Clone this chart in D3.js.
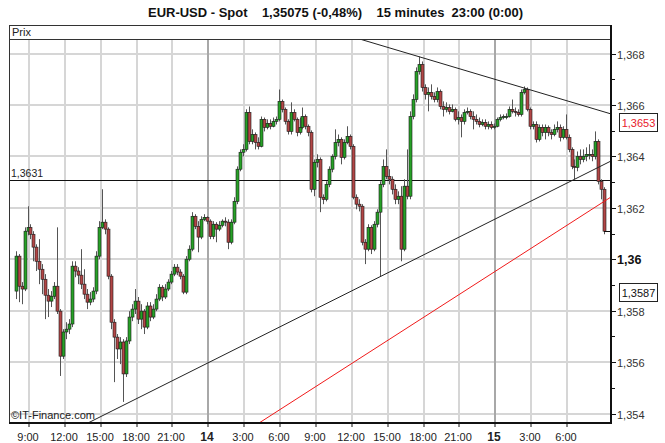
<!DOCTYPE html>
<html><head><meta charset="utf-8">
<script src="https://cdn.jsdelivr.net/npm/d3@7"></script>
<style>
html,body{margin:0;padding:0;background:#fff;}
svg{display:block;}
text{font-family:"Liberation Sans",Arial,sans-serif;}
</style></head>
<body>
<svg id="c" width="665" height="443"></svg>
<script>
// ---------- DATA ----------
const title = "EUR-USD - Spot    1,35075 (-0,48%)    15 minutes  23:00 (0:00)";
const startHour = 7.75;          // first bar: day 13, 07:45
const barHours = 0.25;           // 15 minute bars
const firstOpen = 1.35876;
const closes = [
1.36012,1.35895,1.35884,1.36109,1.36124,1.36097,1.36047,1.35992,1.35961,1.35922,
1.35860,1.35837,1.35856,1.35895,1.35798,1.35623,1.35717,1.35728,1.35748,1.35973,
1.35954,1.35938,1.35903,1.35864,1.35833,1.35845,1.35876,1.36012,1.36124,1.36144,
1.36117,1.35934,1.35755,1.35697,1.35651,1.35678,1.35554,1.35682,1.35775,1.35806,
1.35837,1.35767,1.35798,1.35736,1.35818,1.35775,1.35806,1.35845,1.35891,1.35853,
1.35884,1.35911,1.35942,1.35969,1.35950,1.35934,1.35872,1.36000,1.36039,1.36167,
1.36128,1.36086,1.36155,1.36163,1.36148,1.36089,1.36136,1.36117,1.36132,1.36148,
1.36144,1.36066,1.36144,1.36225,1.36350,1.36416,1.36427,1.36571,1.36458,1.36485,
1.36454,1.36439,1.36544,1.36513,1.36528,1.36517,1.36536,1.36544,1.36614,1.36583,
1.36536,1.36497,1.36571,1.36544,1.36493,1.36513,1.36555,1.36517,1.36493,1.36272,
1.36377,1.36388,1.36241,1.36233,1.36291,1.36350,1.36400,1.36454,1.36466,1.36396,
1.36454,1.36478,1.36439,1.36241,1.36214,1.36206,1.36066,1.36039,1.36124,1.36039,
1.36136,1.36183,1.36291,1.36361,1.36322,1.36311,1.36272,1.36233,1.36245,1.36039,
1.36284,1.36245,1.36555,1.36621,1.36730,1.36757,1.36668,1.36641,1.36649,1.36633,
1.36621,1.36652,1.36594,1.36583,1.36590,1.36575,1.36583,1.36544,1.36551,1.36536,
1.36571,1.36575,1.36555,1.36544,1.36536,1.36524,1.36532,1.36517,1.36524,1.36513,
1.36517,1.36544,1.36551,1.36555,1.36555,1.36583,1.36575,1.36571,1.36563,1.36649,
1.36660,1.36583,1.36517,1.36524,1.36466,1.36513,1.36493,1.36513,1.36493,1.36485,
1.36505,1.36513,1.36474,1.36505,1.36474,1.36427,1.36361,1.36357,1.36400,1.36388,
1.36400,1.36408,1.36408,1.36400,1.36458,1.36303,1.36272,1.36109];
const highs = [
1.36031,1.36020,1.35911,1.36124,1.36206,1.36136,1.36109,1.36058,1.36078,1.35981,
1.35942,1.35884,1.35876,1.35911,1.36124,1.35806,1.35728,1.35755,1.35767,1.35992,
1.35992,1.35969,1.36039,1.35961,1.35884,1.35872,1.35891,1.36031,1.36148,1.36272,
1.36155,1.36124,1.35942,1.35767,1.35709,1.35697,1.35689,1.35697,1.35798,1.35825,
1.35884,1.35853,1.35825,1.35806,1.35833,1.35833,1.35825,1.35864,1.35903,1.35899,
1.35903,1.35922,1.35954,1.35981,1.35981,1.35961,1.35942,1.36012,1.36054,1.36183,
1.36175,1.36148,1.36167,1.36175,1.36167,1.36155,1.36148,1.36144,1.36148,1.36155,
1.36163,1.36155,1.36155,1.36241,1.36361,1.36427,1.36447,1.36583,1.36594,1.36505,
1.36493,1.36474,1.36555,1.36551,1.36544,1.36544,1.36551,1.36555,1.36660,1.36621,
1.36590,1.36544,1.36610,1.36583,1.36551,1.36551,1.36590,1.36563,1.36524,1.36501,
1.36388,1.36408,1.36396,1.36252,1.36303,1.36361,1.36408,1.36505,1.36485,1.36474,
1.36466,1.36517,1.36485,1.36447,1.36252,1.36233,1.36214,1.36078,1.36136,1.36132,
1.36148,1.36194,1.36303,1.36388,1.36427,1.36350,1.36322,1.36291,1.36264,1.36284,
1.36311,1.36427,1.36575,1.36641,1.36746,1.36788,1.36769,1.36680,1.36668,1.36680,
1.36649,1.36668,1.36660,1.36614,1.36610,1.36602,1.36602,1.36590,1.36575,1.36563,
1.36583,1.36590,1.36583,1.36575,1.36563,1.36551,1.36544,1.36544,1.36536,1.36536,
1.36528,1.36551,1.36563,1.36563,1.36567,1.36594,1.36621,1.36590,1.36583,1.36660,
1.36672,1.36668,1.36590,1.36536,1.36536,1.36524,1.36524,1.36524,1.36520,1.36505,
1.36524,1.36536,1.36524,1.36517,1.36563,1.36485,1.36435,1.36388,1.36419,1.36427,
1.36427,1.36435,1.36447,1.36427,1.36497,1.36466,1.36311,1.36280];
const lows = [
1.35845,1.35833,1.35825,1.35876,1.36093,1.36078,1.35992,1.35954,1.35903,1.35864,
1.35767,1.35775,1.35814,1.35845,1.35787,1.35546,1.35612,1.35689,1.35709,1.35736,
1.35930,1.35903,1.35884,1.35845,1.35806,1.35821,1.35833,1.35864,1.36000,1.36117,
1.36097,1.35922,1.35728,1.35522,1.35612,1.35592,1.35445,1.35542,1.35670,1.35759,
1.35787,1.35748,1.35728,1.35709,1.35728,1.35759,1.35767,1.35798,1.35837,1.35837,
1.35845,1.35876,1.35903,1.35934,1.35938,1.35922,1.35864,1.35864,1.35992,1.36031,
1.36117,1.36027,1.36078,1.36148,1.36136,1.36078,1.36078,1.36066,1.36109,1.36124,
1.36128,1.36039,1.36058,1.36136,1.36214,1.36342,1.36400,1.36419,1.36447,1.36447,
1.36427,1.36427,1.36435,1.36497,1.36505,1.36505,1.36513,1.36524,1.36536,1.36571,
1.36524,1.36485,1.36485,1.36536,1.36478,1.36485,1.36505,1.36505,1.36478,1.36260,
1.36245,1.36357,1.36183,1.36214,1.36225,1.36280,1.36338,1.36388,1.36439,1.36369,
1.36388,1.36447,1.36427,1.36233,1.36194,1.36186,1.36054,1.35981,1.36031,1.36020,
1.36031,1.36124,1.35934,1.36280,1.36311,1.36291,1.36252,1.36214,1.36214,1.35992,
1.36031,1.36233,1.36233,1.36544,1.36610,1.36718,1.36652,1.36621,1.36575,1.36621,
1.36610,1.36610,1.36583,1.36555,1.36571,1.36563,1.36571,1.36536,1.36524,1.36474,
1.36524,1.36563,1.36544,1.36505,1.36524,1.36513,1.36517,1.36505,1.36505,1.36505,
1.36505,1.36513,1.36536,1.36544,1.36544,1.36551,1.36567,1.36555,1.36555,1.36555,
1.36641,1.36575,1.36505,1.36505,1.36454,1.36458,1.36478,1.36466,1.36478,1.36466,
1.36478,1.36493,1.36458,1.36466,1.36466,1.36416,1.36350,1.36311,1.36342,1.36369,
1.36377,1.36381,1.36388,1.36381,1.36388,1.36291,1.36233,1.36097];

// x axis: hours counted from day 13, 00:00
const xTickHours  = [9,12,15,18,21,24,27,30,33,36,39,42,45,48,51,54];
const xTickLabels = ["9:00","12:00","15:00","18:00","21:00","14","3:00","6:00","9:00","12:00","15:00","18:00","21:00","15","3:00","6:00"];
const dayTicks = ["14","15"];
const yTicks      = [1.354,1.356,1.358,1.360,1.362,1.364,1.366,1.368];
const yTickLabels = ["1,354","1,356","1,358","1,36","1,362","1,364","1,366","1,368"];
const yMinorTicks = [1.355,1.357,1.359,1.361,1.363,1.365,1.367];
const hLevel = 1.3631, hLevelLabel = "1,3631";
const markers = [{v:1.3653,label:"1,3653",color:"#e8202a"},{v:1.3587,label:"1,3587",color:"#111"}];
// trend lines [hour1, price1, hour2, price2]
const trendLines = [
  {p:[36.68,1.36856,57.68,1.36565], color:"#222"},
  {p:[13.93,1.35363,57.68,1.36382], color:"#222"},
  {p:[28.24,1.35363,57.68,1.36242], color:"#f01a1a"}
];

// ---------- LAYOUT ----------
const L=9, R=611, T=39, B=423, HT=25;
const svg=d3.select("#c");
const x=d3.scaleLinear().domain([7.327,57.678]).range([L,R]);
const y=d3.scaleLinear().domain([1.354,1.368]).range([413.5,53.5]);

const opens = closes.map((c,i)=> i===0 ? firstOpen : closes[i-1]);
const bars = closes.map((c,i)=>({t:startHour+barHours*i+barHours/2,o:opens[i],h:highs[i],l:lows[i],c:c}));

// title
svg.append("text").attr("x",148).attr("y",17).attr("textLength",375).attr("lengthAdjust","spacingAndGlyphs")
  .style("font-family","'Liberation Sans Narrow','Liberation Sans',Arial,sans-serif")
  .style("font-size","13px").style("font-weight","bold").attr("fill","#111")
  .attr("xml:space","preserve").text(title);

// header band
svg.append("rect").attr("x",L+0.5).attr("y",HT+0.5).attr("width",R-L-1).attr("height",T-HT).attr("fill","#fff").attr("stroke","#333");
svg.append("text").attr("x",12).attr("y",36).style("font-size","11px").attr("fill","#222").text("Prix");

// grid
const gridCol="#d6d6d6", dayCol="#a8a8a8";
const grid=svg.append("g");
yTicks.forEach(v=>{
  grid.append("rect").attr("x",L+1).attr("y",Math.round(y(v))-1).attr("width",R-L-2).attr("height",2).attr("fill",gridCol);
});
xTickHours.forEach((h,i)=>{
  grid.append("rect").attr("x",Math.round(x(h))-1).attr("y",T+1).attr("width",2).attr("height",B-T-2)
    .attr("fill",dayTicks.includes(xTickLabels[i])?dayCol:gridCol);
});

const clipId="clipP";
svg.append("clipPath").attr("id",clipId).append("rect").attr("x",L).attr("y",T+1).attr("width",R-L).attr("height",B-T-1);
const plot=svg.append("g").attr("clip-path","url(#"+clipId+")");

// horizontal level
plot.append("line").attr("x1",L).attr("x2",R).attr("y1",Math.round(y(hLevel))+0.5).attr("y2",Math.round(y(hLevel))+0.5).attr("stroke","#111");
svg.append("text").attr("x",11).attr("y",Math.round(y(hLevel))-3).style("font-size","10.5px").attr("fill","#222").text(hLevelLabel);

// candles
const cg=plot.append("g");
bars.forEach(d=>{
  const cx=Math.round(x(d.t));
  cg.append("line").attr("x1",cx+0.5).attr("x2",cx+0.5).attr("y1",y(d.h)).attr("y2",y(d.l)).attr("stroke","#555").attr("stroke-width",1);
  const top=y(Math.max(d.o,d.c)), bot=y(Math.min(d.o,d.c));
  cg.append("rect").attr("x",cx-1).attr("y",top).attr("width",3).attr("height",Math.max(1,bot-top))
    .attr("fill",d.c>=d.o?"#27a127":"#b24646").attr("stroke","#1a1a1a").attr("stroke-width",0.6);
});
// last close marker
const last=bars[bars.length-1];
plot.append("line").attr("x1",Math.round(x(last.t))).attr("x2",R).attr("y1",Math.round(y(last.c))+0.5).attr("y2",Math.round(y(last.c))+0.5).attr("stroke","#111");

// trend lines
trendLines.forEach(tl=>{
  const [h1,p1,h2,p2]=tl.p;
  plot.append("line").attr("x1",x(h1)).attr("y1",y(p1)).attr("x2",x(h2)).attr("y2",y(p2)).attr("stroke",tl.color).attr("stroke-width",1);
});

// frame
svg.append("line").attr("x1",L+0.5).attr("x2",L+0.5).attr("y1",HT).attr("y2",B+1).attr("stroke","#333");
svg.append("line").attr("x1",R).attr("x2",R).attr("y1",HT).attr("y2",B+1).attr("stroke","#111").attr("stroke-width",2);
svg.append("line").attr("x1",L).attr("x2",R+1).attr("y1",B).attr("y2",B).attr("stroke","#111").attr("stroke-width",2);

// y axis
const ya=svg.append("g");
yTicks.forEach((v,i)=>{
  const yy=Math.round(y(v))+0.5;
  ya.append("line").attr("x1",R).attr("x2",R+5).attr("y1",yy).attr("y2",yy).attr("stroke","#111");
  const bold=yTickLabels[i]==="1,36";
  ya.append("text").attr("x",R+6).attr("y",yy+4).style("font-size",bold?"12.5px":"11px")
    .style("font-weight",bold?"bold":"normal").attr("fill",bold?"#111":"#333").text(yTickLabels[i]);
});
yMinorTicks.forEach(v=>{
  const yy=Math.round(y(v))+0.5;
  ya.append("line").attr("x1",R).attr("x2",R+4).attr("y1",yy).attr("y2",yy).attr("stroke","#111");
});
markers.forEach(m=>{
  const yy=Math.round(y(m.v));
  ya.append("rect").attr("x",619.5).attr("y",yy-9.5).attr("width",38).attr("height",18).attr("fill","#fff").attr("stroke","#222");
  ya.append("text").attr("x",638.5).attr("y",yy+4).attr("text-anchor","middle").style("font-size","11px").attr("fill",m.color).text(m.label);
});

// x axis
const xa=svg.append("g");
xTickHours.forEach((h,i)=>{
  const xx=Math.round(x(h));
  xa.append("line").attr("x1",xx).attr("x2",xx).attr("y1",B).attr("y2",B+4).attr("stroke","#111");
  const bold=dayTicks.includes(xTickLabels[i]);
  xa.append("text").attr("x",xx-1).attr("y",441).attr("text-anchor","middle")
    .style("font-size",bold?"12px":"11px").style("font-weight",bold?"bold":"normal").attr("fill","#222").text(xTickLabels[i]);
});

// footer
svg.append("text").attr("x",11).attr("y",419).style("font-size","11px").attr("fill","#222").text("\u00A9IT-Finance.com");
</script>
</body></html>
